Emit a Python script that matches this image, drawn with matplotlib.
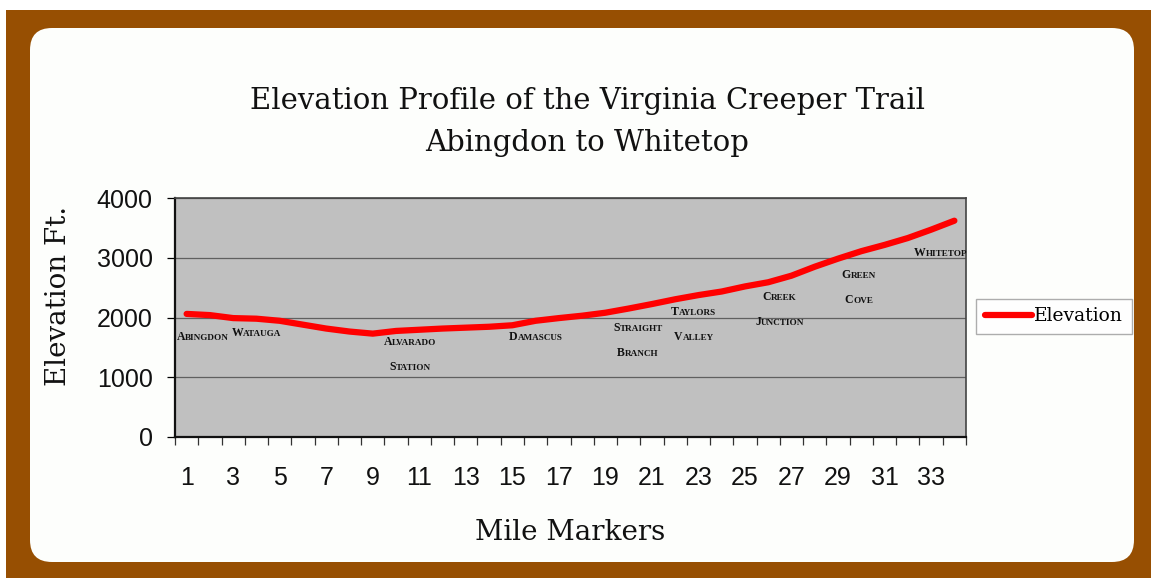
import numpy as np
import matplotlib
matplotlib.use('Agg')
import matplotlib.pyplot as plt
from matplotlib.patches import Rectangle, FancyBboxPatch
from matplotlib.transforms import IdentityTransform
from matplotlib.offsetbox import TextArea, HPacker, AnnotationBbox

# mile markers 1..34 and elevation (ft)
miles = list(range(1, 35))
elevation = [2060, 2040, 1990, 1980, 1945, 1880, 1815, 1765, 1730, 1775,
             1795, 1815, 1830, 1845, 1870, 1945, 1990, 2030, 2080, 2150,
             2225, 2305, 2375, 2435, 2520, 2590, 2700, 2850, 2985, 3110,
             3215, 3330, 3470, 3620]

# station labels: text, mile position, elevation position
stations = [("ABINGDON", 1.7, 1670), ("WATAUGA", 4.0, 1740),
            ("ALVARADO", 10.6, 1590), ("STATION", 10.6, 1170),
            ("DAMASCUS", 16.0, 1670),
            ("STRAIGHT", 20.4, 1820), ("BRANCH", 20.4, 1400),
            ("TAYLORS", 22.8, 2090), ("VALLEY", 22.8, 1670),
            ("CREEK", 26.5, 2340), ("JUNCTION", 26.5, 1920),
            ("GREEN", 29.9, 2710), ("COVE", 29.9, 2290),
            ("WHITETOP", 33.4, 3080)]

W, H = 1151, 578
fig = plt.figure(figsize=(W / 100, H / 100), dpi=100)
fig.patch.set_facecolor('white')

# brown frame + rounded white panel (pixel coords, origin bottom-left)
fig.patches.append(Rectangle((6, 0), W - 6, H - 10, transform=IdentityTransform(),
                             facecolor='#974F02', edgecolor='none', zorder=-3))
fig.patches.append(FancyBboxPatch((30, 16), 1104, 534, boxstyle='round,pad=0,rounding_size=22',
                                  transform=IdentityTransform(), facecolor='#FDFEFC',
                                  edgecolor='none', zorder=-2))

ax = fig.add_axes([175 / W, 1 - 437 / H, (966 - 175) / W, (437 - 198) / H])
ax.set_facecolor('#C0C0C0')

ax.plot(miles, elevation, color='#FF0000', lw=4.5, solid_capstyle='round',
        solid_joinstyle='round', label='Elevation', zorder=3)

ax.set_xlim(0.5, 34.5)
ax.set_ylim(0, 4000)
ax.set_yticks([0, 1000, 2000, 3000, 4000])
ax.yaxis.grid(True, color='#606060', lw=0.9)
ax.set_axisbelow(True)

# tick marks between categories, labels on odd miles
ax.set_xticks(np.arange(0.5, 35, 1))
ax.set_xticklabels([])
ax.set_xticks(miles[::2], minor=True)
ax.set_xticklabels([str(m) for m in miles[::2]], minor=True)
ax.tick_params(axis='x', which='major', direction='out', length=6, width=0.9, color='#333333')
ax.tick_params(axis='x', which='minor', length=0, pad=21, labelsize=18)
ax.tick_params(axis='y', direction='out', length=6, width=0.9, labelsize=18, pad=10)
for lab in ax.get_xticklabels(minor=True) + ax.get_yticklabels():
    lab.set_family('Liberation Sans')
    lab.set_color('#111111')

for s in ['left', 'bottom']:
    ax.spines[s].set_color('#111111')
    ax.spines[s].set_linewidth(1.6)
for s in ['top', 'right']:
    ax.spines[s].set_color('#444444')
    ax.spines[s].set_linewidth(1.2)

# small-caps station names
for name, x, y in stations:
    parts = [TextArea(name[0], textprops=dict(size=8.5, weight='bold', family='Liberation Serif', color='#111111')),
             TextArea(name[1:], textprops=dict(size=6.6, weight='bold', family='Liberation Serif', color='#111111'))]
    box = HPacker(children=parts, align='baseline', pad=0, sep=0)
    ab = AnnotationBbox(box, (x, y), frameon=False, box_alignment=(0.5, 0.5), pad=0)
    ax.add_artist(ab)

serif = 'DejaVu Serif'
fig.text(587 / W, 1 - 101 / H, 'Elevation Profile of the Virginia Creeper Trail',
         ha='center', va='center', family=serif, size=21, color='#111111')
fig.text(587 / W, 1 - 143 / H, 'Abingdon to Whitetop',
         ha='center', va='center', family=serif, size=21, color='#111111')
fig.text(59 / W, 1 - 296 / H, 'Elevation Ft.', rotation=90, ha='center', va='center',
         family=serif, size=20, color='#111111')
fig.text(570 / W, 1 - 533 / H, 'Mile Markers', ha='center', va='center',
         family=serif, size=20, color='#111111')

leg = ax.legend(loc='center left', bbox_to_anchor=(1.013, 0.505), frameon=True, fancybox=False,
                prop={'family': serif, 'size': 13.5}, handlelength=2.5,
                handletextpad=0.15, borderpad=0.45, borderaxespad=0)
leg.get_frame().set_edgecolor('#999999')
leg.get_frame().set_linewidth(1.0)

fig.savefig('out.png', dpi=100)
